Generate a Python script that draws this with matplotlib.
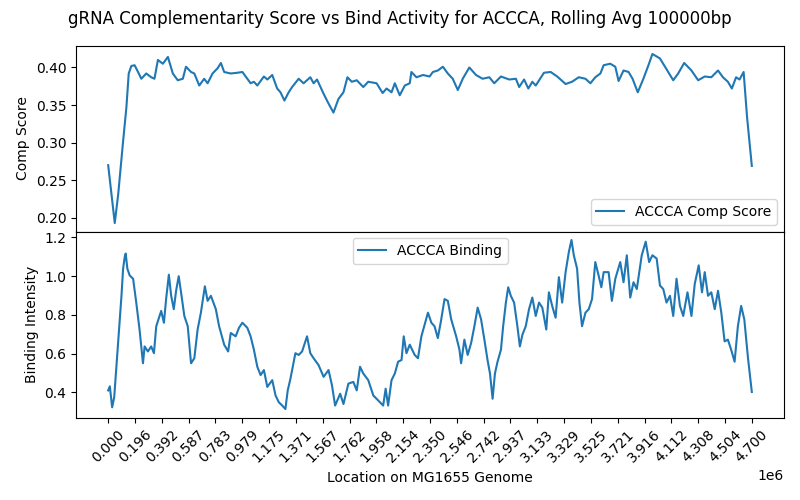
import numpy as np
import matplotlib
matplotlib.use("Agg")
import matplotlib.pyplot as plt

# data (positions in Mbp)
comp_pos = [0.000, 0.048, 0.073, 0.109, 0.133, 0.150, 0.169, 0.193, 0.218, 0.242,
            0.278, 0.314, 0.338, 0.363, 0.399, 0.436, 0.472, 0.508, 0.545, 0.568,
            0.605, 0.629, 0.665, 0.701, 0.726, 0.762, 0.799, 0.823, 0.847, 0.895,
            0.944, 0.980, 1.016, 1.040, 1.064, 1.089, 1.137, 1.162, 1.198, 1.234,
            1.258, 1.287, 1.318, 1.343, 1.391, 1.427, 1.476, 1.500, 1.525, 1.573,
            1.609, 1.645, 1.681, 1.718, 1.747, 1.779, 1.815, 1.863, 1.899, 1.960,
            2.004, 2.033, 2.069, 2.093, 2.129, 2.166, 2.202, 2.214, 2.251, 2.299,
            2.347, 2.371, 2.407, 2.444, 2.480, 2.516, 2.553, 2.589, 2.637, 2.686,
            2.734, 2.783, 2.819, 2.868, 2.928, 2.977, 3.001, 3.037, 3.068, 3.097,
            3.122, 3.182, 3.231, 3.279, 3.340, 3.387, 3.436, 3.485, 3.521, 3.557,
            3.594, 3.618, 3.666, 3.703, 3.727, 3.763, 3.800, 3.829, 3.867, 3.908,
            3.945, 3.974, 4.029, 4.066, 4.126, 4.162, 4.206, 4.259, 4.308, 4.356,
            4.404, 4.453, 4.489, 4.525, 4.554, 4.585, 4.610, 4.640, 4.665, 4.6998]
comp_score = [0.270, 0.193, 0.231, 0.302, 0.347, 0.392, 0.402, 0.403, 0.394, 0.385,
              0.392, 0.387, 0.385, 0.410, 0.405, 0.414, 0.392, 0.383, 0.385, 0.401,
              0.394, 0.392, 0.376, 0.385, 0.379, 0.392, 0.399, 0.406, 0.394, 0.392,
              0.393, 0.394, 0.385, 0.379, 0.381, 0.376, 0.388, 0.384, 0.390, 0.372,
              0.367, 0.356, 0.367, 0.374, 0.385, 0.379, 0.387, 0.379, 0.384, 0.365,
              0.352, 0.340, 0.358, 0.367, 0.387, 0.381, 0.383, 0.374, 0.381, 0.379,
              0.366, 0.372, 0.367, 0.379, 0.363, 0.376, 0.379, 0.394, 0.387, 0.390,
              0.388, 0.394, 0.396, 0.401, 0.392, 0.385, 0.370, 0.385, 0.400, 0.390,
              0.385, 0.387, 0.379, 0.388, 0.384, 0.385, 0.374, 0.384, 0.372, 0.381,
              0.376, 0.393, 0.394, 0.388, 0.378, 0.381, 0.387, 0.385, 0.379, 0.387,
              0.392, 0.403, 0.405, 0.401, 0.382, 0.396, 0.394, 0.385, 0.367, 0.385,
              0.403, 0.418, 0.412, 0.401, 0.383, 0.392, 0.406, 0.396, 0.383, 0.388,
              0.387, 0.396, 0.387, 0.381, 0.372, 0.387, 0.384, 0.394, 0.334, 0.269]

bind_pos = [0.000, 0.012, 0.029, 0.044, 0.060, 0.077, 0.097, 0.109, 0.121, 0.128,
            0.140, 0.157, 0.182, 0.205, 0.229, 0.254, 0.266, 0.290, 0.314, 0.334,
            0.351, 0.375, 0.387, 0.407, 0.423, 0.443, 0.460, 0.479, 0.496, 0.515,
            0.532, 0.556, 0.581, 0.605, 0.629, 0.653, 0.677, 0.706, 0.726, 0.750,
            0.786, 0.810, 0.847, 0.876, 0.895, 0.931, 0.955, 0.980, 1.016, 1.040,
            1.064, 1.089, 1.113, 1.137, 1.162, 1.198, 1.222, 1.246, 1.271, 1.294,
            1.311, 1.331, 1.367, 1.391, 1.416, 1.452, 1.476, 1.500, 1.536, 1.573,
            1.609, 1.634, 1.657, 1.694, 1.718, 1.754, 1.790, 1.815, 1.839, 1.863,
            1.899, 1.936, 1.972, 2.008, 2.026, 2.044, 2.069, 2.093, 2.117, 2.142,
            2.158, 2.178, 2.202, 2.238, 2.262, 2.287, 2.311, 2.335, 2.360, 2.383,
            2.407, 2.430, 2.456, 2.480, 2.505, 2.541, 2.565, 2.577, 2.601, 2.625,
            2.650, 2.674, 2.698, 2.723, 2.747, 2.770, 2.788, 2.807, 2.824, 2.843,
            2.868, 2.884, 2.904, 2.921, 2.940, 2.964, 2.988, 3.006, 3.025, 3.049,
            3.073, 3.097, 3.122, 3.146, 3.170, 3.199, 3.218, 3.242, 3.267, 3.291,
            3.315, 3.340, 3.364, 3.383, 3.400, 3.424, 3.441, 3.460, 3.485, 3.509,
            3.533, 3.557, 3.581, 3.601, 3.618, 3.654, 3.678, 3.703, 3.739, 3.763,
            3.787, 3.812, 3.836, 3.860, 3.896, 3.925, 3.950, 3.974, 4.005, 4.029,
            4.053, 4.077, 4.102, 4.126, 4.150, 4.175, 4.199, 4.230, 4.259, 4.283,
            4.312, 4.336, 4.356, 4.380, 4.404, 4.429, 4.453, 4.477, 4.501, 4.525,
            4.549, 4.574, 4.598, 4.622, 4.645, 4.672, 4.6998]
bind_val = [0.410, 0.431, 0.323, 0.375, 0.532, 0.706, 0.898, 1.038, 1.099, 1.116,
            1.038, 1.003, 0.986, 0.863, 0.724, 0.550, 0.637, 0.611, 0.637, 0.602,
            0.741, 0.794, 0.820, 0.759, 0.881, 1.007, 0.898, 0.829, 0.924, 0.999,
            0.916, 0.794, 0.741, 0.550, 0.576, 0.724, 0.811, 0.947, 0.872, 0.898,
            0.829, 0.741, 0.646, 0.611, 0.706, 0.689, 0.733, 0.759, 0.733, 0.689,
            0.620, 0.532, 0.489, 0.515, 0.428, 0.463, 0.384, 0.349, 0.332, 0.314,
            0.410, 0.471, 0.602, 0.593, 0.611, 0.689, 0.602, 0.576, 0.541, 0.480,
            0.515, 0.437, 0.332, 0.393, 0.340, 0.445, 0.454, 0.410, 0.532, 0.497,
            0.463, 0.384, 0.358, 0.332, 0.419, 0.332, 0.463, 0.497, 0.558, 0.567,
            0.689, 0.602, 0.646, 0.593, 0.576, 0.689, 0.750, 0.811, 0.759, 0.741,
            0.680, 0.768, 0.881, 0.872, 0.776, 0.689, 0.620, 0.550, 0.672, 0.593,
            0.654, 0.741, 0.837, 0.776, 0.672, 0.567, 0.497, 0.367, 0.497, 0.558,
            0.620, 0.741, 0.863, 0.942, 0.898, 0.863, 0.741, 0.637, 0.698, 0.741,
            0.829, 0.889, 0.794, 0.863, 0.837, 0.724, 0.916, 0.846, 0.785, 0.994,
            0.863, 1.020, 1.125, 1.186, 1.107, 1.038, 0.863, 0.741, 0.811, 0.829,
            0.881, 1.072, 1.003, 0.942, 1.020, 1.020, 0.872, 0.986, 1.072, 0.968,
            1.107, 0.889, 0.968, 0.933, 1.107, 1.177, 1.072, 1.107, 1.090, 0.951,
            0.933, 0.863, 0.898, 0.794, 0.986, 0.846, 0.794, 0.916, 0.794, 0.959,
            1.055, 0.916, 1.020, 0.898, 0.916, 0.829, 0.924, 0.811, 0.663, 0.672,
            0.620, 0.558, 0.741, 0.846, 0.776, 0.576, 0.402]

seq = "ACCCA"
window = 100000
tick_step = 195823  # spacing of the 25 genome ticks

comp_x = np.array(comp_pos) * 1e6
bind_x = np.array(bind_pos) * 1e6

fig, (ax1, ax2) = plt.subplots(2, 1, sharex=True, figsize=(8, 5))
fig.suptitle(f"gRNA Complementarity Score vs Bind Activity for {seq}, Rolling Avg {window}bp")

ax1.plot(comp_x, comp_score, label=f"{seq} Comp Score")
ax1.set_ylabel("Comp Score")
ax1.legend(loc="lower right")

ax2.plot(bind_x, bind_val, label=f"{seq} Binding")
ax2.set_ylabel("Binding Intensity")
ax2.set_xlabel("Location on MG1655 Genome")
ax2.legend(loc="upper center")

ax2.set_xticks(np.arange(25) * tick_step)
ax2.tick_params(axis='x', labelrotation=45)

fig.subplots_adjust(left=0.095, right=0.98, top=0.909, bottom=0.165, hspace=0)
fig.savefig("out.png", dpi=100)
